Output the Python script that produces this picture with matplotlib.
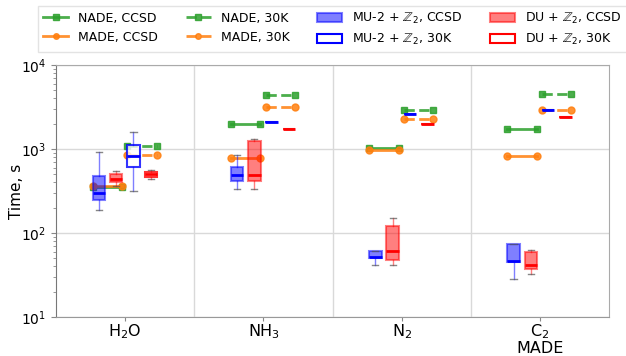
import matplotlib
matplotlib.use("Agg")
import matplotlib.pyplot as plt
from matplotlib.lines import Line2D
from matplotlib.patches import Patch
import numpy as np

molecules = ['H$_2$O', 'NH$_3$', 'N$_2$', 'C$_2$\nMADE']
nade_ccsd = [350, 1990, 1040, 1710]
made_ccsd = [358, 780, 975, 830]
nade_30k = [1090, 4430, 2910, 4520]
made_30k = [840, 3160, 2250, 2880]

# box stats: whislo, q1, median, q3, whishi
mu2_ccsd = [[188, 245, 299, 477, 929],
            [331, 420, 490, 611, 855],
            [41.2, 49.9, 51.8, 61.6, 61.6],
            [28.6, 45.2, 46.8, 73.3, 73.3]]
du_ccsd = [[363, 402, 443, 504, 547],
           [331, 420, 486, 1234, 1327],
           [41.2, 47.7, 60.5, 121, 151],
           [32.8, 36.9, 41.6, 60, 62.2]]
mu2_30k = [[313, 615, 832, 1117, 1581],
           [2113, 2113, 2113, 2113, 2113],
           [2612, 2612, 2612, 2612, 2612],
           [2940, 2940, 2940, 2940, 2940]]
du_30k = [[440, 468, 503, 537, 557],
          [1714, 1714, 1714, 1714, 1714],
          [1968, 1968, 1968, 1968, 1968],
          [2426, 2426, 2426, 2426, 2426]]

fig = plt.figure(figsize=(6.26, 3.56), dpi=100)
ax = fig.add_axes([56/626, 1-317/356, (609-56)/626, (317-65)/356])

x = np.arange(len(molecules))
green = '#2ca02c'
orange = '#ff7f0e'

for i in x:
    ax.plot([i-0.235, i-0.022], [nade_ccsd[i]]*2, '-s', color=green, ms=5, lw=2, alpha=0.85)
    ax.plot([i-0.235, i-0.022], [made_ccsd[i]]*2, '-o', color=orange, ms=5, lw=2, alpha=0.85)
    ax.plot([i+0.017, i+0.228], [nade_30k[i]]*2, '--s', color=green, ms=5, lw=2, alpha=0.85)
    ax.plot([i+0.017, i+0.228], [made_30k[i]]*2, '--o', color=orange, ms=5, lw=2, alpha=0.85)

def stats(arr):
    out = []
    for a in arr:
        out.append(dict(whislo=a[0], q1=a[1], med=a[2], q3=a[3], whishi=a[4], fliers=[]))
    return out

def draw(arr, offset, color, filled):
    fc = color if filled else 'white'
    ax.bxp(stats(arr), positions=x+offset, widths=0.09, patch_artist=True,
           showfliers=False, manage_ticks=False,
           boxprops=dict(facecolor=fc, edgecolor=color, alpha=0.5 if filled else 0.8, lw=1.5),
           medianprops=dict(color=color, lw=2),
           whiskerprops=dict(color=color, alpha=0.5, lw=1),
           capprops=dict(color='#555555', alpha=0.7, lw=1))

draw(mu2_ccsd, -0.19, 'blue', True)
draw(du_ccsd, -0.065, 'red', True)
draw(mu2_30k, 0.06, 'blue', False)
draw(du_30k, 0.186, 'red', False)

ax.set_yscale('log')
ax.set_ylim(10, 1e4)
ax.set_xlim(-0.5, 3.5)
ax.set_xticks(x)
ax.set_xticklabels(molecules, fontsize=11.5, linespacing=0.95)
ax.set_xticks([0.5, 1.5, 2.5], minor=True)
ax.tick_params(axis='x', which='minor', length=0)
ax.tick_params(axis='x', which='major', length=3, pad=1, color='#888888')
ax.tick_params(axis='y', which='both', color='#888888')
ax.grid(True, which='minor', axis='x', color='#d9d9d9', lw=1)
ax.grid(True, which='major', axis='y', color='#d9d9d9', lw=1)
ax.set_axisbelow(True)
ax.tick_params(axis='y', labelsize=10)
ax.set_ylabel('Time, s', fontsize=11)
ax.yaxis.set_label_coords(-0.058, 0.5)
for s in ax.spines.values():
    s.set_color('#aaaaaa')
ax.spines['left'].set_color('#777777')
ax.spines['bottom'].set_color('#999999')

handles = [
    Line2D([], [], color=green, marker='s', ms=4, lw=2, alpha=0.85),
    Line2D([], [], color=orange, marker='o', ms=4, lw=2, alpha=0.85),
    Line2D([], [], color=green, marker='s', ms=4, lw=2, ls='--', alpha=0.85),
    Line2D([], [], color=orange, marker='o', ms=4, lw=2, ls='--', alpha=0.85),
    Patch(facecolor=(0, 0, 1, 0.5), edgecolor=(0, 0, 1, 0.5), lw=1.5),
    Patch(facecolor='white', edgecolor='blue', lw=1.5),
    Patch(facecolor=(1, 0, 0, 0.5), edgecolor=(1, 0, 0, 0.5), lw=1.5),
    Patch(facecolor='white', edgecolor='red', lw=1.5),
]
labels = ['NADE, CCSD', 'MADE, CCSD', 'NADE, 30K', 'MADE, 30K',
          'MU-2 + $\\mathbb{Z}_2$, CCSD', 'MU-2 + $\\mathbb{Z}_2$, 30K',
          'DU + $\\mathbb{Z}_2$, CCSD', 'DU + $\\mathbb{Z}_2$, 30K']
ax.legend(handles, labels, ncol=4, loc='lower center', bbox_to_anchor=(0.5, 1 + 13/252),
          fontsize=9, frameon=True, edgecolor='#dddddd', handlelength=2.0,
          handletextpad=0.8, columnspacing=2.2, borderaxespad=0, fancybox=False)

fig.savefig('out.png', dpi=100)
